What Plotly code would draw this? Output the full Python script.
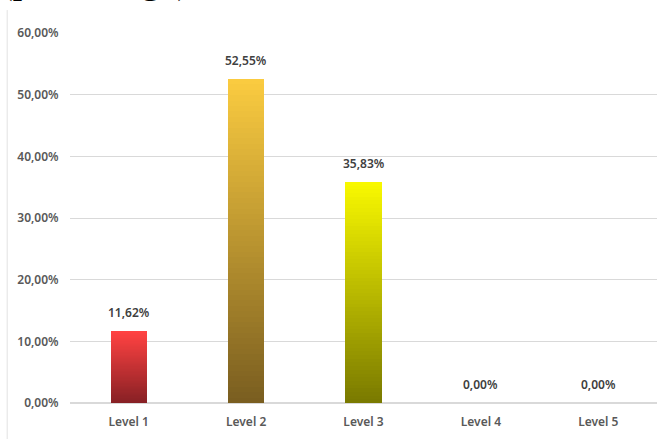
import plotly.graph_objects as go

categories = ["Level 1", "Level 2", "Level 3", "Level 4", "Level 5"]
values = [11.62, 52.55, 35.83, 0.0, 0.0]
labels = ["11,62%", "52,55%", "35,83%", "0,00%", "0,00%"]
y_ticks = [0, 10, 20, 30, 40, 50, 60]
y_tick_text = ["0,00%", "10,00%", "20,00%", "30,00%", "40,00%", "50,00%", "60,00%"]

# gradient styling (top colour, bottom colour) per bar
top_colors = [(255, 66, 66), (250, 203, 64), (248, 248, 0), (200, 200, 200), (200, 200, 200)]
bottom_colors = [(135, 32, 36), (122, 94, 32), (122, 122, 0), (200, 200, 200), (200, 200, 200)]
N = 60

def mix(a, b, t):
    return "rgb(%d,%d,%d)" % tuple(round(a[i] + (b[i] - a[i]) * t) for i in range(3))

fig = go.Figure()
for k in range(N):
    t = k / (N - 1)  # 0 bottom -> 1 top
    fig.add_trace(go.Bar(
        x=categories,
        y=[v / N for v in values],
        marker=dict(color=[mix(bottom_colors[i], top_colors[i], t) for i in range(len(categories))],
                    line=dict(width=0)),
        hoverinfo="skip",
        showlegend=False,
    ))

for c, v, lab in zip(categories, values, labels):
    fig.add_annotation(x=c, y=v, text=lab, showarrow=False, yanchor="bottom", yshift=8,
                       font=dict(family="Noto Sans", size=12, color="#404040", weight=600))

fig.add_annotation(xref="paper", yref="paper", x=-0.122, y=1.0, yshift=29, xanchor="left", yanchor="bottom",
                   text="(percentage)", showarrow=False,
                   font=dict(family="Liberation Serif", size=38, color="#000"))

fig.add_shape(type="line", xref="paper", yref="paper", x0=-0.107, x1=-0.107, y0=-0.1, y1=1.062,
              line=dict(color="#e2e2e2", width=1))

fig.update_layout(
    width=664, height=439,
    margin=dict(l=70, r=7, t=33, b=36),
    paper_bgcolor="white", plot_bgcolor="white",
    barmode="stack", bargap=0.69,
    separators=",.",
    font=dict(family="Noto Sans", size=12, color="#595959"),
    xaxis=dict(showgrid=False, showline=False, ticks="outside", ticklen=8, tickcolor="rgba(0,0,0,0)",
               tickfont=dict(size=12, color="#595959", weight=600)),
    yaxis=dict(range=[0, 60], tickvals=y_ticks, ticktext=y_tick_text,
               showgrid=True, gridcolor="#d9d9d9", gridwidth=1, zeroline=True, zerolinecolor="#d9d9d9",
               ticks="outside", ticklen=8, tickcolor="rgba(0,0,0,0)",
               tickfont=dict(size=12, color="#595959", weight=600)),
)

fig.write_html("out.html", config={"displayModeBar": False},
               post_script="document.body.style.margin='0';")
